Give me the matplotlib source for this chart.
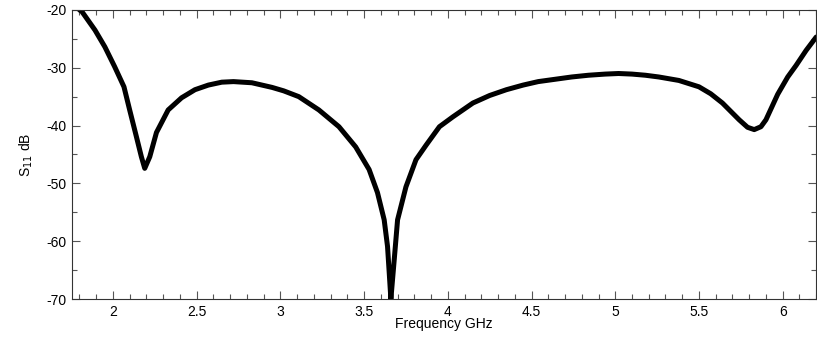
import matplotlib
matplotlib.use("Agg")
import matplotlib.pyplot as plt
from matplotlib.ticker import MultipleLocator, FuncFormatter

plt.rcParams['font.family'] = ['Liberation Sans', 'DejaVu Sans']
plt.rcParams['axes.unicode_minus'] = False

freq = [1.80, 1.815, 1.893, 1.952, 2.01, 2.066, 2.10, 2.14, 2.17, 2.19, 2.22, 2.26,
        2.33, 2.41, 2.49, 2.57, 2.65, 2.72, 2.83, 2.95, 3.02, 3.11, 3.23, 3.35,
        3.45, 3.53, 3.58, 3.62, 3.64, 3.65, 3.66, 3.68, 3.70, 3.75, 3.81, 3.87,
        3.95, 4.03, 4.15, 4.25, 4.35, 4.45, 4.54, 4.64, 4.74, 4.84, 4.94, 5.02,
        5.10, 5.18, 5.26, 5.38, 5.50, 5.57, 5.64, 5.74, 5.79, 5.83, 5.87, 5.90,
        5.97, 6.03, 6.08, 6.14, 6.20]
s11 = [-20.0, -20.3, -23.5, -26.4, -29.8, -33.3, -37.3, -41.9, -45.4, -47.4, -45.4, -41.2,
       -37.3, -35.2, -33.8, -33.0, -32.5, -32.4, -32.6, -33.4, -34.0, -35.0, -37.3, -40.2,
       -43.7, -47.6, -51.6, -56.3, -60.9, -65.4, -70.0, -63.2, -56.3, -50.6, -45.9, -43.4,
       -40.2, -38.5, -36.1, -34.8, -33.8, -33.0, -32.4, -32.0, -31.6, -31.3, -31.1, -31.0,
       -31.1, -31.3, -31.6, -32.2, -33.3, -34.5, -36.1, -39.0, -40.3, -40.7, -40.2, -39.0,
       -34.6, -31.6, -29.6, -27.0, -24.7]

fmt = FuncFormatter(lambda v, p: '%g' % v)

fig = plt.figure(figsize=(8.17, 3.41), dpi=100)
ax = fig.add_axes([0.088, 0.123, 0.911, 0.848])
ax.plot(freq, s11, color='black', lw=3.6, solid_joinstyle='round', solid_capstyle='round')
ax.set_xlim(1.755, 6.2)
ax.set_ylim(-70, -20)
ax.xaxis.set_major_locator(MultipleLocator(0.5))
ax.xaxis.set_minor_locator(MultipleLocator(0.1))
ax.yaxis.set_major_locator(MultipleLocator(10))
ax.yaxis.set_minor_locator(MultipleLocator(5))
ax.xaxis.set_major_formatter(fmt)
ax.yaxis.set_major_formatter(fmt)
ax.tick_params(which='both', direction='in', top=True, right=True, labelsize=10, color='#555555')
ax.tick_params(which='major', length=6, width=0.8, pad=4)
ax.tick_params(which='minor', length=3.5, width=0.8)
for s in ax.spines.values():
    s.set_linewidth(0.8)
    s.set_color('#333333')
ax.set_xlabel('Frequency GHz', fontsize=10, labelpad=-1)
ax.set_ylabel('S$_{11}$ dB', fontsize=10, labelpad=8)
fig.savefig('out.png', dpi=100)
